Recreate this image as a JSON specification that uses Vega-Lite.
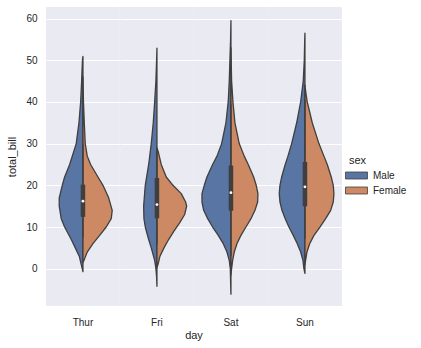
{
  "$schema": "https://vega.github.io/schema/vega-lite/v6.json",
  "padding": {"left": 6, "top": 7, "right": 5, "bottom": 5},
  "background": "white",
  "config": {
    "font": "Liberation Sans",
    "view": {"fill": "#EAEAF2", "stroke": null},
    "axis": {"labelColor": "#262626", "titleColor": "#262626", "labelFontSize": 10, "titleFontSize": 11, "titleFontWeight": "normal"},
    "facet": {"spacing": 0}
  },
  "data": {"values": [
    {"day":"Thur","sex":"Male","total_bill":-0.7,"density":0},
    {"day":"Thur","sex":"Male","total_bill":1,"density":-0.023},
    {"day":"Thur","sex":"Male","total_bill":3,"density":-0.05},
    {"day":"Thur","sex":"Male","total_bill":5,"density":-0.104},
    {"day":"Thur","sex":"Male","total_bill":7,"density":-0.158},
    {"day":"Thur","sex":"Male","total_bill":10,"density":-0.248},
    {"day":"Thur","sex":"Male","total_bill":12,"density":-0.294},
    {"day":"Thur","sex":"Male","total_bill":15,"density":-0.321},
    {"day":"Thur","sex":"Male","total_bill":17,"density":-0.321},
    {"day":"Thur","sex":"Male","total_bill":20,"density":-0.28},
    {"day":"Thur","sex":"Male","total_bill":22,"density":-0.248},
    {"day":"Thur","sex":"Male","total_bill":25,"density":-0.18},
    {"day":"Thur","sex":"Male","total_bill":30,"density":-0.091},
    {"day":"Thur","sex":"Male","total_bill":35,"density":-0.054},
    {"day":"Thur","sex":"Male","total_bill":40,"density":-0.031},
    {"day":"Thur","sex":"Male","total_bill":45,"density":-0.018},
    {"day":"Thur","sex":"Male","total_bill":50,"density":-0.007},
    {"day":"Thur","sex":"Male","total_bill":50.9,"density":0},
    {"day":"Thur","sex":"Female","total_bill":1.5,"density":0},
    {"day":"Thur","sex":"Female","total_bill":2,"density":0.014},
    {"day":"Thur","sex":"Female","total_bill":4,"density":0.058},
    {"day":"Thur","sex":"Female","total_bill":6,"density":0.135},
    {"day":"Thur","sex":"Female","total_bill":8,"density":0.226},
    {"day":"Thur","sex":"Female","total_bill":10,"density":0.315},
    {"day":"Thur","sex":"Female","total_bill":12,"density":0.383},
    {"day":"Thur","sex":"Female","total_bill":14,"density":0.396},
    {"day":"Thur","sex":"Female","total_bill":17,"density":0.348},
    {"day":"Thur","sex":"Female","total_bill":20,"density":0.271},
    {"day":"Thur","sex":"Female","total_bill":22,"density":0.203},
    {"day":"Thur","sex":"Female","total_bill":25,"density":0.104},
    {"day":"Thur","sex":"Female","total_bill":27,"density":0.058},
    {"day":"Thur","sex":"Female","total_bill":30,"density":0.031},
    {"day":"Thur","sex":"Female","total_bill":35,"density":0.018},
    {"day":"Thur","sex":"Female","total_bill":40,"density":0.007},
    {"day":"Thur","sex":"Female","total_bill":46,"density":0},
    {"day":"Fri","sex":"Male","total_bill":-4.2,"density":0},
    {"day":"Fri","sex":"Male","total_bill":-2,"density":-0.005},
    {"day":"Fri","sex":"Male","total_bill":0,"density":-0.014},
    {"day":"Fri","sex":"Male","total_bill":2,"density":-0.031},
    {"day":"Fri","sex":"Male","total_bill":5,"density":-0.077},
    {"day":"Fri","sex":"Male","total_bill":7,"density":-0.112},
    {"day":"Fri","sex":"Male","total_bill":10,"density":-0.158},
    {"day":"Fri","sex":"Male","total_bill":12,"density":-0.176},
    {"day":"Fri","sex":"Male","total_bill":15,"density":-0.18},
    {"day":"Fri","sex":"Male","total_bill":20,"density":-0.158},
    {"day":"Fri","sex":"Male","total_bill":25,"density":-0.112},
    {"day":"Fri","sex":"Male","total_bill":30,"density":-0.077},
    {"day":"Fri","sex":"Male","total_bill":35,"density":-0.05},
    {"day":"Fri","sex":"Male","total_bill":40,"density":-0.031},
    {"day":"Fri","sex":"Male","total_bill":45,"density":-0.014},
    {"day":"Fri","sex":"Male","total_bill":50,"density":-0.005},
    {"day":"Fri","sex":"Male","total_bill":52.9,"density":0},
    {"day":"Fri","sex":"Female","total_bill":0.3,"density":0},
    {"day":"Fri","sex":"Female","total_bill":1,"density":0.014},
    {"day":"Fri","sex":"Female","total_bill":3,"density":0.041},
    {"day":"Fri","sex":"Female","total_bill":5,"density":0.095},
    {"day":"Fri","sex":"Female","total_bill":7,"density":0.158},
    {"day":"Fri","sex":"Female","total_bill":9,"density":0.23},
    {"day":"Fri","sex":"Female","total_bill":11,"density":0.307},
    {"day":"Fri","sex":"Female","total_bill":13,"density":0.375},
    {"day":"Fri","sex":"Female","total_bill":15,"density":0.402},
    {"day":"Fri","sex":"Female","total_bill":16,"density":0.388},
    {"day":"Fri","sex":"Female","total_bill":18,"density":0.329},
    {"day":"Fri","sex":"Female","total_bill":20,"density":0.217},
    {"day":"Fri","sex":"Female","total_bill":22,"density":0.126},
    {"day":"Fri","sex":"Female","total_bill":25,"density":0.058},
    {"day":"Fri","sex":"Female","total_bill":28,"density":0.018},
    {"day":"Fri","sex":"Female","total_bill":29,"density":0},
    {"day":"Sat","sex":"Male","total_bill":-6.1,"density":0},
    {"day":"Sat","sex":"Male","total_bill":-3,"density":-0.005},
    {"day":"Sat","sex":"Male","total_bill":0,"density":-0.009},
    {"day":"Sat","sex":"Male","total_bill":2,"density":-0.023},
    {"day":"Sat","sex":"Male","total_bill":4,"density":-0.054},
    {"day":"Sat","sex":"Male","total_bill":6,"density":-0.104},
    {"day":"Sat","sex":"Male","total_bill":8,"density":-0.172},
    {"day":"Sat","sex":"Male","total_bill":10,"density":-0.248},
    {"day":"Sat","sex":"Male","total_bill":12,"density":-0.315},
    {"day":"Sat","sex":"Male","total_bill":14,"density":-0.369},
    {"day":"Sat","sex":"Male","total_bill":16,"density":-0.392},
    {"day":"Sat","sex":"Male","total_bill":18,"density":-0.392},
    {"day":"Sat","sex":"Male","total_bill":20,"density":-0.361},
    {"day":"Sat","sex":"Male","total_bill":22,"density":-0.325},
    {"day":"Sat","sex":"Male","total_bill":25,"density":-0.248},
    {"day":"Sat","sex":"Male","total_bill":27,"density":-0.189},
    {"day":"Sat","sex":"Male","total_bill":30,"density":-0.126},
    {"day":"Sat","sex":"Male","total_bill":35,"density":-0.068},
    {"day":"Sat","sex":"Male","total_bill":40,"density":-0.037},
    {"day":"Sat","sex":"Male","total_bill":45,"density":-0.023},
    {"day":"Sat","sex":"Male","total_bill":50,"density":-0.014},
    {"day":"Sat","sex":"Male","total_bill":55,"density":-0.005},
    {"day":"Sat","sex":"Male","total_bill":59.5,"density":0},
    {"day":"Sat","sex":"Female","total_bill":-1.5,"density":0},
    {"day":"Sat","sex":"Female","total_bill":0,"density":0.009},
    {"day":"Sat","sex":"Female","total_bill":2,"density":0.023},
    {"day":"Sat","sex":"Female","total_bill":4,"density":0.045},
    {"day":"Sat","sex":"Female","total_bill":6,"density":0.081},
    {"day":"Sat","sex":"Female","total_bill":8,"density":0.135},
    {"day":"Sat","sex":"Female","total_bill":10,"density":0.203},
    {"day":"Sat","sex":"Female","total_bill":12,"density":0.271},
    {"day":"Sat","sex":"Female","total_bill":14,"density":0.325},
    {"day":"Sat","sex":"Female","total_bill":16,"density":0.361},
    {"day":"Sat","sex":"Female","total_bill":18,"density":0.365},
    {"day":"Sat","sex":"Female","total_bill":20,"density":0.342},
    {"day":"Sat","sex":"Female","total_bill":22,"density":0.307},
    {"day":"Sat","sex":"Female","total_bill":25,"density":0.234},
    {"day":"Sat","sex":"Female","total_bill":27,"density":0.18},
    {"day":"Sat","sex":"Female","total_bill":30,"density":0.112},
    {"day":"Sat","sex":"Female","total_bill":35,"density":0.054},
    {"day":"Sat","sex":"Female","total_bill":40,"density":0.027},
    {"day":"Sat","sex":"Female","total_bill":45,"density":0.009},
    {"day":"Sat","sex":"Female","total_bill":50,"density":0.003},
    {"day":"Sat","sex":"Female","total_bill":53,"density":0},
    {"day":"Sun","sex":"Male","total_bill":-1.1,"density":0},
    {"day":"Sun","sex":"Male","total_bill":0,"density":-0.014},
    {"day":"Sun","sex":"Male","total_bill":2,"density":-0.027},
    {"day":"Sun","sex":"Male","total_bill":4,"density":-0.058},
    {"day":"Sun","sex":"Male","total_bill":6,"density":-0.104},
    {"day":"Sun","sex":"Male","total_bill":8,"density":-0.158},
    {"day":"Sun","sex":"Male","total_bill":10,"density":-0.217},
    {"day":"Sun","sex":"Male","total_bill":12,"density":-0.267},
    {"day":"Sun","sex":"Male","total_bill":14,"density":-0.311},
    {"day":"Sun","sex":"Male","total_bill":16,"density":-0.338},
    {"day":"Sun","sex":"Male","total_bill":18,"density":-0.348},
    {"day":"Sun","sex":"Male","total_bill":20,"density":-0.338},
    {"day":"Sun","sex":"Male","total_bill":22,"density":-0.315},
    {"day":"Sun","sex":"Male","total_bill":25,"density":-0.267},
    {"day":"Sun","sex":"Male","total_bill":27,"density":-0.23},
    {"day":"Sun","sex":"Male","total_bill":30,"density":-0.18},
    {"day":"Sun","sex":"Male","total_bill":35,"density":-0.112},
    {"day":"Sun","sex":"Male","total_bill":40,"density":-0.058},
    {"day":"Sun","sex":"Male","total_bill":45,"density":-0.023},
    {"day":"Sun","sex":"Male","total_bill":50,"density":-0.009},
    {"day":"Sun","sex":"Male","total_bill":55,"density":-0.003},
    {"day":"Sun","sex":"Male","total_bill":56.5,"density":0},
    {"day":"Sun","sex":"Female","total_bill":1,"density":0},
    {"day":"Sun","sex":"Female","total_bill":2,"density":0.009},
    {"day":"Sun","sex":"Female","total_bill":4,"density":0.027},
    {"day":"Sun","sex":"Female","total_bill":6,"density":0.064},
    {"day":"Sun","sex":"Female","total_bill":8,"density":0.122},
    {"day":"Sun","sex":"Female","total_bill":10,"density":0.203},
    {"day":"Sun","sex":"Female","total_bill":12,"density":0.28},
    {"day":"Sun","sex":"Female","total_bill":14,"density":0.348},
    {"day":"Sun","sex":"Female","total_bill":16,"density":0.383},
    {"day":"Sun","sex":"Female","total_bill":18,"density":0.392},
    {"day":"Sun","sex":"Female","total_bill":20,"density":0.383},
    {"day":"Sun","sex":"Female","total_bill":22,"density":0.356},
    {"day":"Sun","sex":"Female","total_bill":25,"density":0.302},
    {"day":"Sun","sex":"Female","total_bill":27,"density":0.257},
    {"day":"Sun","sex":"Female","total_bill":30,"density":0.189},
    {"day":"Sun","sex":"Female","total_bill":35,"density":0.099},
    {"day":"Sun","sex":"Female","total_bill":40,"density":0.031},
    {"day":"Sun","sex":"Female","total_bill":42,"density":0.014},
    {"day":"Sun","sex":"Female","total_bill":44,"density":0},
    {"day":"Thur","lo":7.51,"q1":12.44,"median":16.2,"q3":20.16,"hi":29.8},
    {"day":"Fri","lo":5.75,"q1":12.1,"median":15.38,"q3":21.75,"hi":28.97},
    {"day":"Sat","lo":3.07,"q1":13.9,"median":18.24,"q3":24.74,"hi":39.42},
    {"day":"Sun","lo":7.25,"q1":14.99,"median":19.63,"q3":25.6,"hi":40.55}
  ]},
  "facet": {
    "column": {
      "field": "day", "type": "nominal", "sort": ["Thur", "Fri", "Sat", "Sun"],
      "title": "day",
      "header": {"labelOrient": "bottom", "titleOrient": "bottom", "labelFontSize": 10, "titleFontSize": 11, "titleFontWeight": "normal", "labelColor": "#262626", "titleColor": "#262626", "labelPadding": 12, "titlePadding": -8, "font": "Liberation Sans", "labelFont": "Liberation Sans", "titleFont": "Liberation Sans"}
    }
  },
  "spec": {
    "width": 73.9,
    "height": 299,
    "layer": [
      {
        "transform": [{"filter": {"field": "density", "valid": true}}],
        "mark": {"type": "area", "orient": "horizontal", "stroke": "#3f3f3f", "strokeWidth": 1.3, "strokeJoin": "round", "opacity": 1},
        "encoding": {
          "y": {"field": "total_bill", "type": "quantitative", "title": "total_bill",
                "scale": {"domain": [-8.94, 62.76], "nice": false, "zero": false},
                "axis": {"values": [0, 10, 20, 30, 40, 50, 60], "grid": true, "gridColor": "white", "gridWidth": 1, "domain": false, "ticks": false, "labelPadding": 9, "titlePadding": 8}},
          "x": {"field": "density", "type": "quantitative", "scale": {"domain": [-0.5, 0.5], "nice": false, "zero": false}, "axis": null},
          "x2": {"datum": 0},
          "color": {"field": "sex", "type": "nominal", "title": "sex",
                    "scale": {"domain": ["Male", "Female"], "range": ["#5975a4", "#cc8963"]},
                    "legend": {"orient": "none", "legendX": 303, "legendY": 148, "titleFontSize": 11, "titleFontWeight": "normal", "labelFontSize": 10, "titleColor": "#262626", "labelColor": "#262626", "symbolType": "M-1.57,-0.5H1.57V0.5H-1.57Z", "symbolSize": 196, "symbolStrokeColor": "#3f3f3f", "symbolStrokeWidth": 0.8, "symbolOpacity": 1, "rowPadding": 2, "labelOffset": 9, "titlePadding": 2}},
          "detail": {"field": "sex"}
        }
      },
      {
        "transform": [{"filter": {"field": "median", "valid": true}}],
        "mark": {"type": "rule", "stroke": "#3f3f3f", "strokeWidth": 1.3},
        "encoding": {
          "x": {"datum": 0},
          "y": {"field": "lo", "type": "quantitative"},
          "y2": {"field": "hi"}
        }
      },
      {
        "transform": [{"filter": {"field": "median", "valid": true}}],
        "mark": {"type": "rule", "stroke": "#3f3f3f", "strokeWidth": 4.5, "strokeCap": "butt"},
        "encoding": {
          "x": {"datum": 0},
          "y": {"field": "q1", "type": "quantitative"},
          "y2": {"field": "q3"}
        }
      },
      {
        "transform": [{"filter": {"field": "median", "valid": true}}],
        "mark": {"type": "point", "filled": true, "fill": "white", "opacity": 1, "size": 8, "strokeWidth": 0},
        "encoding": {
          "x": {"datum": 0},
          "y": {"field": "median", "type": "quantitative"}
        }
      }
    ]
  }
}
